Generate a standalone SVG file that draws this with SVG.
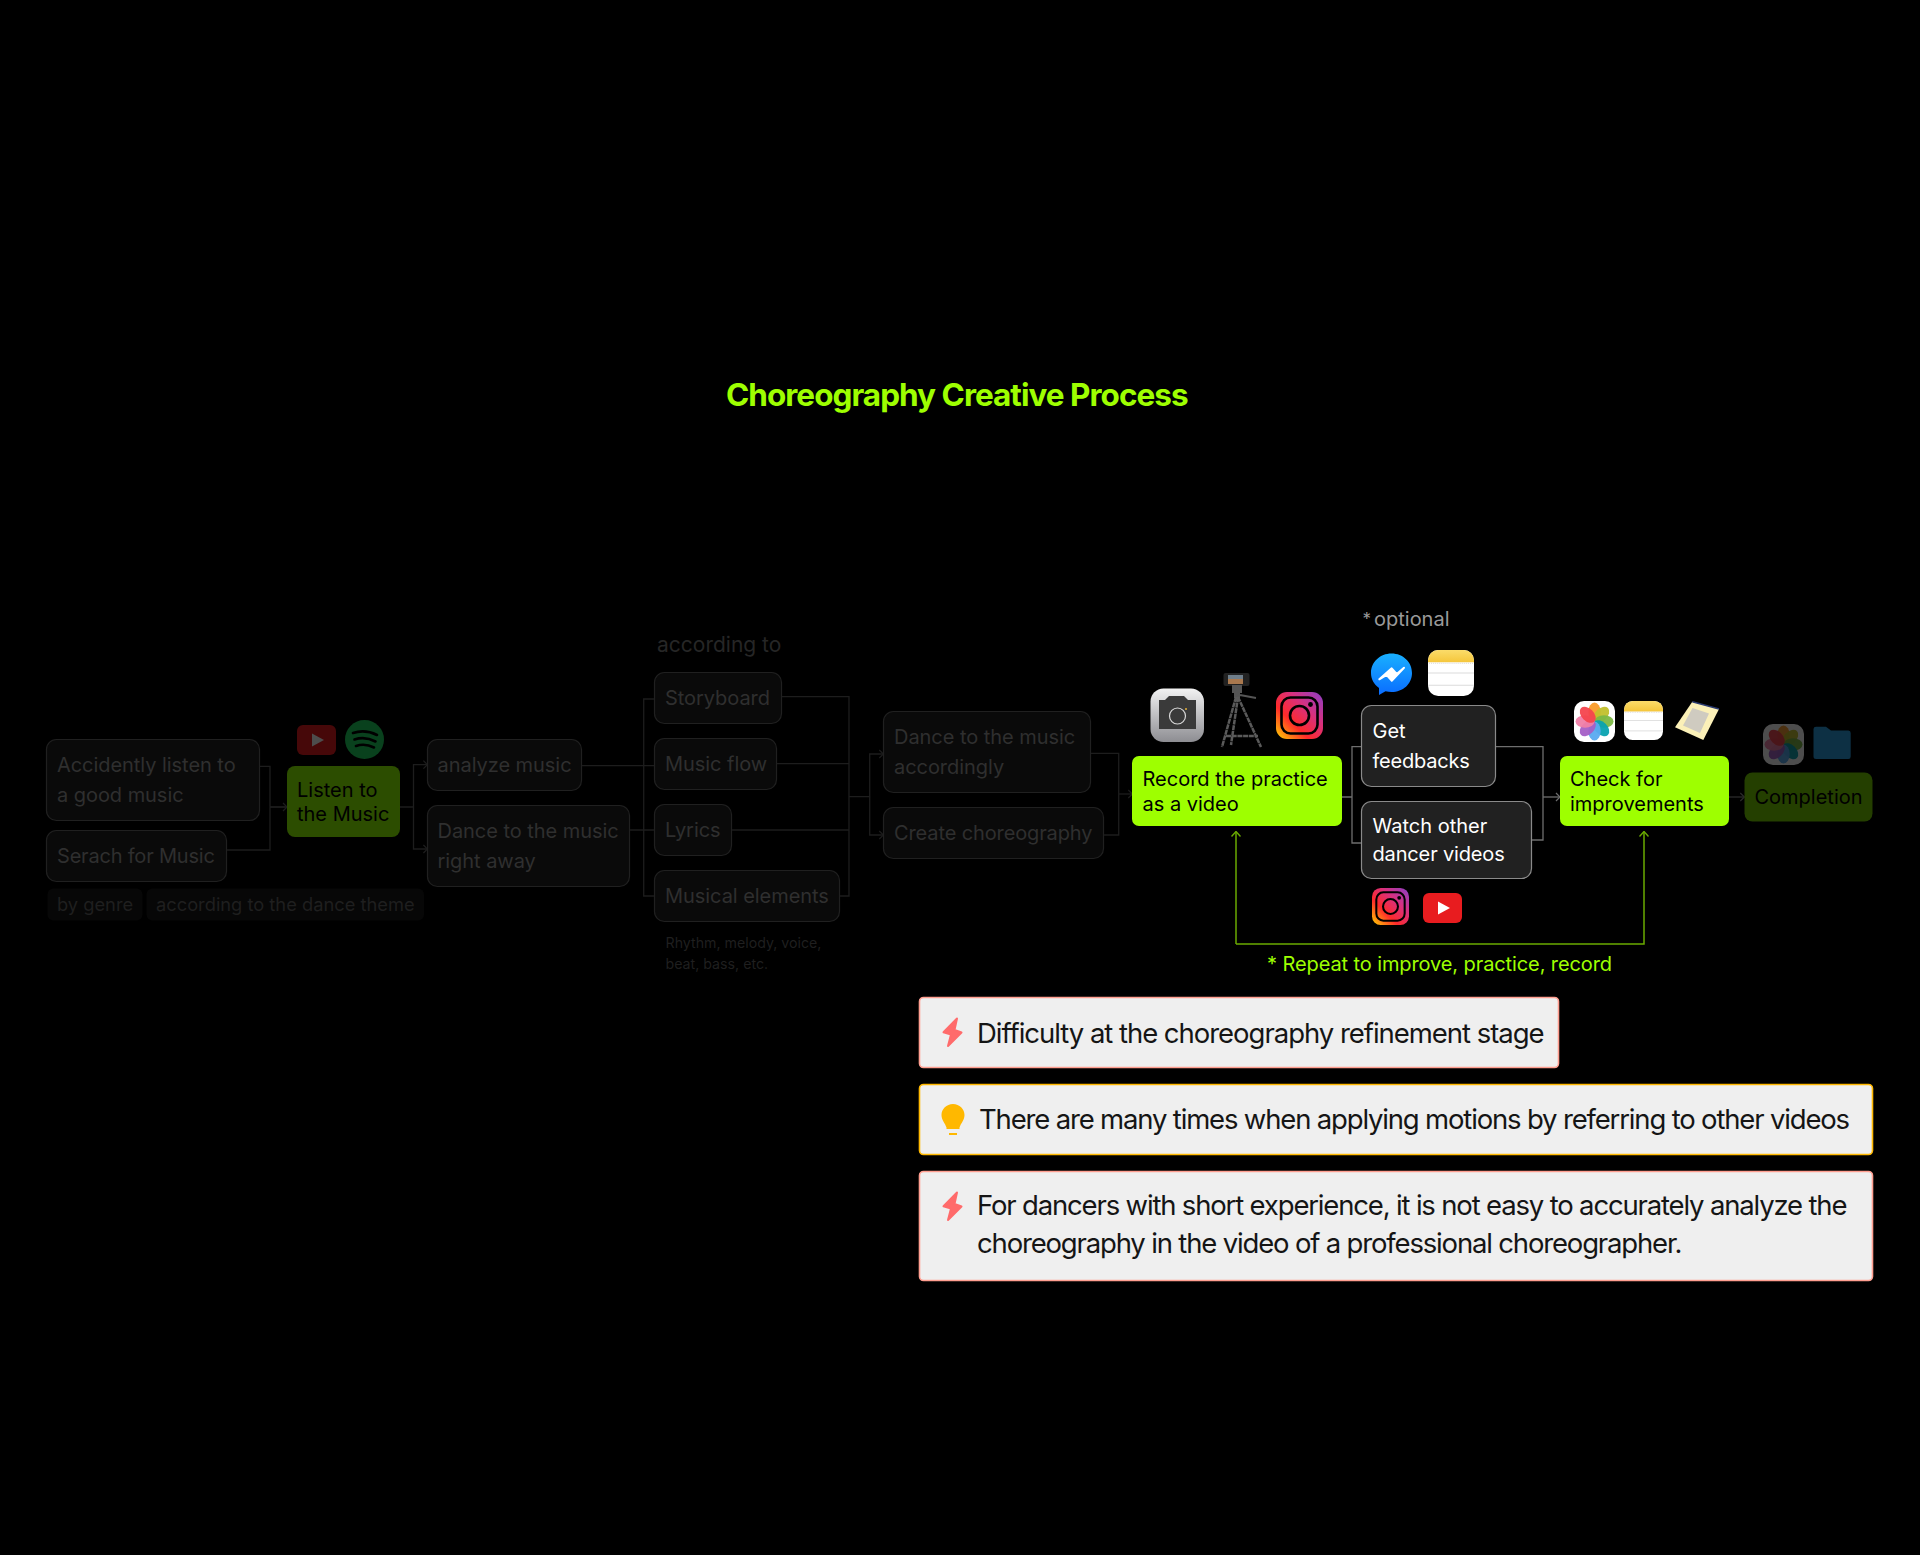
<svg xmlns="http://www.w3.org/2000/svg" width="1920" height="1555" viewBox="0 0 1920 1555">
<style>
text{font-family:Inter,"Liberation Sans",sans-serif;font-size:20px}
.d{fill:#0a0a0a;stroke:#202020;stroke-width:1.2}
.dt{fill:#2f2f2f;letter-spacing:-.05px}
.l{fill:#9eff00}
.lt{fill:#000}
.k{fill:#212121;stroke:#8a8a8a;stroke-width:1.2}
.kt{fill:#fff}
.c{fill:#efefef;stroke-width:1.6}
.ct{fill:#151515;font-size:27.500px;letter-spacing:-1.17px}
.w1{fill:none;stroke:#1d1d1d;stroke-width:1.3}
.w2{fill:none;stroke:#6e6e6e;stroke-width:1.3}
.w3{fill:none;stroke:#6aaa00;stroke-width:1.5}
.w4{fill:none;stroke:#2a2a2a;stroke-width:1.3}
</style>
<defs>
<linearGradient id="ig" x1="0" y1="1" x2="1" y2="0"><stop offset="0" stop-color="#ffd400"/><stop offset=".35" stop-color="#ff2a2a"/><stop offset=".65" stop-color="#d8307e"/><stop offset="1" stop-color="#8a3fc8"/></linearGradient>
<linearGradient id="cam" x1="0" y1="0" x2="0" y2="1"><stop offset="0" stop-color="#f2f2f2"/><stop offset="1" stop-color="#8d8d92"/></linearGradient>
<linearGradient id="ms" x1="0" y1="0" x2="0" y2="1"><stop offset="0" stop-color="#19b0ff"/><stop offset="1" stop-color="#0a6cff"/></linearGradient>
<linearGradient id="nt" x1="0" y1="0" x2="0" y2="1"><stop offset="0" stop-color="#fbdc6a"/><stop offset="1" stop-color="#f5c63b"/></linearGradient>
<symbol id="insta" viewBox="0 0 47 47"><rect width="47" height="47" rx="11" fill="url(#ig)"/><rect x="5.5" y="5.5" width="36" height="36" rx="9" fill="none" stroke="#000" stroke-width="2.6"/><circle cx="23.5" cy="23.5" r="9.5" fill="none" stroke="#000" stroke-width="2.6"/><circle cx="34.5" cy="12.5" r="2.4" fill="#000"/></symbol>
<symbol id="yt" viewBox="0 0 39 30"><rect width="39" height="30" rx="6" fill="#e81c1f"/><path d="M15 8.5 27 15 15 21.5Z" fill="#fff"/></symbol>
<symbol id="notes" viewBox="0 0 45 45"><rect width="45" height="45" rx="10" fill="#fff"/><path d="M0 12V10A10 10 0 0 1 10 0H35A10 10 0 0 1 45 10V12Z" fill="url(#nt)"/><path d="M1 13H44" stroke="#d5d5d5" stroke-width="1" stroke-dasharray="1 1" fill="none"/><path d="M0 22.500H45M0 34.500H45" stroke="#dcdcdc" stroke-width="1" fill="none"/></symbol>
<symbol id="photos" viewBox="0 0 41 41"><rect width="41" height="41" rx="10" fill="#fff"/><g transform="translate(20.500 20.500)"><ellipse cy="-9.500" rx="6.200" ry="9.500" fill="#f99b2a" opacity=".95"/><ellipse cy="-9.500" rx="6.200" ry="9.500" fill="#c2c02c" opacity=".95" transform="rotate(45)"/><ellipse cy="-9.500" rx="6.200" ry="9.500" fill="#7cb845" opacity=".95" transform="rotate(90)"/><ellipse cy="-9.500" rx="6.200" ry="9.500" fill="#08a2b0" opacity=".95" transform="rotate(135)"/><ellipse cy="-9.500" rx="6.200" ry="9.500" fill="#58aaf0" opacity=".95" transform="rotate(180)"/><ellipse cy="-9.500" rx="6.200" ry="9.500" fill="#a45fc6" opacity=".95" transform="rotate(225)"/><ellipse cy="-9.500" rx="6.200" ry="9.500" fill="#ef80a8" opacity=".95" transform="rotate(270)"/><ellipse cy="-9.500" rx="6.200" ry="9.500" fill="#f4444e" opacity=".95" transform="rotate(315)"/></g></symbol>
<symbol id="bolt" viewBox="0 0 21 31"><path d="M15 1.500 1.500 15.300 9 17.500 6 29 19.500 15.500 12.500 13Z" fill="#ff6b6b" stroke="#ff6b6b" stroke-width="2" stroke-linejoin="round"/></symbol>
<marker id="a1" viewBox="0 0 8 10" refX="7" refY="5" markerWidth="8" markerHeight="10" markerUnits="userSpaceOnUse" orient="auto"><path d="M3 1 7 5 3 9" fill="none" stroke="#1d1d1d" stroke-width="1.200"/></marker>
<marker id="a2" viewBox="0 0 8 10" refX="7" refY="5" markerWidth="8" markerHeight="10" markerUnits="userSpaceOnUse" orient="auto"><path d="M3 1 7 5 3 9" fill="none" stroke="#6e6e6e" stroke-width="1.200"/></marker>
<marker id="a3" viewBox="0 0 10 10" refX="9" refY="5" markerWidth="10" markerHeight="10" markerUnits="userSpaceOnUse" orient="auto"><path d="M4 .5 9 5 4 9.500" fill="none" stroke="#6aaa00" stroke-width="1.400"/></marker>
<marker id="a4" viewBox="0 0 8 10" refX="7" refY="5" markerWidth="8" markerHeight="10" markerUnits="userSpaceOnUse" orient="auto"><path d="M3 1 7 5 3 9" fill="none" stroke="#2a2a2a" stroke-width="1.200"/></marker>
</defs>
<rect width="1920" height="1555" fill="#000"/>
<text id="title" x="726" y="405.500" style="font-size:31.500px;font-weight:700;letter-spacing:-.98px;fill:#9eff00">Choreography Creative Process</text>

<g id="connectors">
<path class="w1" d="M260 766.300H270V850H226.500M270 807H287" />
<path class="w1" d="M270 807H287" marker-end="url(#a1)"/>
<path class="w1" d="M399.700 807H413.500M413.500 807V764.700H427.400" marker-end="url(#a1)"/>
<path class="w1" d="M413.500 807V849H427.400" marker-end="url(#a1)"/>
<path class="w1" d="M581.600 765.700H654.300M629.400 830H654.300M654.300 699H643.700V896H654.300"/>
<path class="w1" d="M781.700 696.700H849V896H839.700M776.700 763.700H849M731.700 830H849"/>
<path class="w1" d="M849 796.700H869.700V754H883.300" marker-end="url(#a1)"/>
<path class="w1" d="M869.700 796.700V835H883.300" marker-end="url(#a1)"/>
<path class="w1" d="M1090.700 753.300H1118.700V835H1103.700"/>
<path class="w1" d="M1118.700 794H1132.300" marker-end="url(#a1)"/>
<path class="w2" d="M1342 797H1352M1361.300 746.700H1352V843H1361.300"/>
<path class="w2" d="M1495.700 746.700H1543V840H1531.700"/>
<path class="w2" d="M1543 797H1560" marker-end="url(#a2)"/>
<path class="w4" d="M1729 797H1744.300" marker-end="url(#a4)"/>
<path class="w3" d="M1236 944V831.500" marker-end="url(#a3)"/>
<path class="w3" d="M1236 944H1644V831.500" marker-end="url(#a3)"/>
</g>

<g id="n-accident"><rect class="d" x="46.500" y="739.500" width="213" height="81" rx="10"/><text class="dt" x="57" y="772">Accidently listen to</text><text class="dt" x="57" y="802">a good music</text></g>
<g id="n-search"><rect class="d" x="46.500" y="830.500" width="180" height="51" rx="10"/><text class="dt" x="57" y="863" style="letter-spacing:-.2px">Serach for Music</text></g>
<g id="n-genre"><rect x="47.500" y="888.500" width="95" height="32" rx="6" fill="#070707"/><text x="57" y="911" style="font-size:18.300px;fill:#1f1f1f">by genre</text></g>
<g id="n-theme"><rect x="146.500" y="888.500" width="277.500" height="32" rx="6" fill="#070707"/><text x="156" y="911" style="font-size:18.300px;fill:#1f1f1f">according to the dance theme</text></g>
<g id="n-listen"><rect x="287" y="766" width="113" height="71" rx="8" fill="#2c4d00"/><text class="lt" x="297" y="796.500">Listen to</text><text class="lt" x="297" y="821">the Music</text></g>
<g id="i-youtube-dim" opacity=".3"><use href="#yt" x="297" y="725" width="39" height="30"/></g>
<g id="i-spotify-dim" opacity=".3"><circle cx="364.500" cy="739.500" r="19.500" fill="#1ed760"/><path d="M353 733Q365 729 377 735M354.500 739.500Q365 736 375.500 741.500M356 746Q365 743 374 747.500" fill="none" stroke="#000" stroke-width="2.600" stroke-linecap="round"/></g>
<g id="n-analyze"><rect class="d" x="427.500" y="739.500" width="154" height="51" rx="10"/><text class="dt" x="437.500" y="772">analyze music</text></g>
<g id="n-danceaway"><rect class="d" x="427.500" y="805.500" width="202" height="81" rx="10"/><text class="dt" x="437.500" y="838">Dance to the music</text><text class="dt" x="437.500" y="868">right away</text></g>
<text id="according" x="657" y="652" style="font-size:21px;fill:#262626">according to</text>
<g id="n-story"><rect class="d" x="654.500" y="672.500" width="127" height="51" rx="10"/><text class="dt" x="665" y="705">Storyboard</text></g>
<g id="n-flow"><rect class="d" x="654.500" y="738.500" width="122" height="51" rx="10"/><text class="dt" x="665" y="771">Music flow</text></g>
<g id="n-lyrics"><rect class="d" x="654.500" y="804.500" width="77" height="51" rx="10"/><text class="dt" x="665" y="837">Lyrics</text></g>
<g id="n-elements"><rect class="d" x="654.500" y="870.500" width="185" height="51" rx="10"/><text class="dt" x="665" y="903">Musical elements</text></g>
<text id="rhythm1" x="665.500" y="948" style="font-size:14.200px;fill:#1f1f1f">Rhythm, melody, voice,</text>
<text id="rhythm2" x="665.500" y="969" style="font-size:14.200px;fill:#1f1f1f">beat, bass, etc.</text>
<g id="n-danceacc"><rect class="d" x="883.500" y="711.500" width="207" height="81" rx="10"/><text class="dt" x="894" y="744">Dance to the music</text><text class="dt" x="894" y="774">accordingly</text></g>
<g id="n-create"><rect class="d" x="883.500" y="807.500" width="220" height="51" rx="10"/><text class="dt" x="894" y="840" style="letter-spacing:-.12px">Create choreography</text></g>

<g id="n-record"><rect class="l" x="1132" y="756" width="210" height="70" rx="7"/><text class="lt" x="1142.500" y="786">Record the practice</text><text class="lt" x="1142.500" y="811">as a video</text></g>
<g id="i-camera"><rect x="1150.500" y="688.500" width="53.500" height="53.500" rx="13" fill="url(#cam)"/><path d="M1159 700H1165L1169 696H1184L1188 700H1196V729H1159Z" fill="#3a3a3a"/><circle cx="1177.500" cy="716" r="8" fill="none" stroke="#d8d8d8" stroke-width="1.200"/><circle cx="1186" cy="709" r="1" fill="#e5b13a"/></g>
<g id="i-tripod"><rect x="1223.500" y="673" width="26" height="13" rx="2" fill="#222"/><rect x="1228" y="675" width="15" height="9" fill="#a9784e"/><rect x="1228" y="675" width="15" height="4" fill="#6f7e8a"/><path d="M1233 686H1241V692H1239V697H1235V692H1233ZM1240 695 1256 698" stroke="#555" stroke-width="2" fill="#555"/><path d="M1236 697 1222 747M1238 697 1231 745M1238 697 1261 747M1226 736 1258 736" stroke="#5a5a5a" stroke-width="2.500" fill="none" stroke-dasharray="5 .7"/></g>
<g id="i-insta1"><use href="#insta" x="1276" y="692" width="47" height="47"/></g>
<g id="n-feedback"><rect class="k" x="1361.500" y="705.500" width="134" height="81" rx="10"/><text class="kt" x="1372.500" y="738">Get</text><text class="kt" x="1372.500" y="768" style="letter-spacing:-.2px">feedbacks</text></g>
<g id="n-watch"><rect class="k" x="1361.500" y="801.500" width="170" height="77" rx="10"/><text class="kt" x="1372.500" y="833">Watch other</text><text class="kt" x="1372.500" y="861" style="letter-spacing:-.15px">dancer videos</text></g>
<text id="optional-star" x="1362.500" y="625" style="font-size:17px;fill:#9a9a9a">*</text>
<text id="optional" x="1374" y="626" style="fill:#9a9a9a">optional</text>
<g id="i-messenger"><path d="M1391.500 653.500C1403 653.500 1412 662 1412 673C1412 684 1403 692 1391.500 692C1389.500 692 1387.500 691.800 1385.500 691.200L1379 695V688C1374 684.500 1371 679 1371 673C1371 662 1380 653.500 1391.500 653.500Z" fill="url(#ms)"/><path d="M1379.300 679.300 1391.700 668.300 1396.700 674 1404 667.700 1391.700 680.700 1386.700 675Z" fill="#fff" stroke="#fff" stroke-width="2" stroke-linejoin="round"/></g>
<g id="i-notes1"><use href="#notes" x="1428" y="650" width="46" height="46"/></g>
<g id="i-insta2"><use href="#insta" x="1372" y="888" width="37" height="37"/></g>
<g id="i-youtube"><use href="#yt" x="1423" y="893" width="39" height="30"/></g>
<g id="n-check"><rect class="l" x="1560" y="756" width="169" height="70" rx="7"/><text class="lt" x="1570" y="786">Check for</text><text class="lt" x="1570" y="811">improvements</text></g>
<g id="i-photos"><use href="#photos" x="1574" y="701" width="41" height="41"/></g>
<g id="i-notes2"><use href="#notes" x="1624" y="701" width="39" height="39"/></g>
<g id="i-paper"><path d="M1692.300 701.700 1719 709 1703.300 740 1675 727.300Z" fill="#fbf0b8"/><path d="M1692.300 701.700 1719 709" stroke="#2a3a70" stroke-width="1.500"/><path d="M1692.500 708 1709 713.500 1700 733 1683 725.500Z" fill="#cfcbc0"/></g>
<g id="n-completion"><rect x="1744.500" y="772.500" width="128" height="49" rx="8" fill="#243f00"/><text x="1754.500" y="804" fill="#000">Completion</text></g>
<g id="i-photos-dim" opacity=".3"><use href="#photos" x="1763" y="724" width="41" height="41"/></g>
<g id="i-folder-dim" opacity=".3"><path d="M1813.500 729A2.500 2.500 0 0 1 1816 726.700H1826L1831 730.500H1848A2.500 2.500 0 0 1 1850.700 733V756.500A2.500 2.500 0 0 1 1848 759H1816A2.500 2.500 0 0 1 1813.500 756.500Z" fill="#2a9fe0"/></g>
<text id="repeat" x="1267" y="971" style="font-size:20px;letter-spacing:-.1px;fill:#9eff00">* Repeat to improve, practice, record</text>

<g id="callout1"><rect class="c" x="919.500" y="997.500" width="639" height="70" rx="4" stroke="#ff9e90"/><use href="#bolt" x="942" y="1017" width="21" height="31"/><text class="ct" x="977" y="1043" style="letter-spacing:-1.03px">Difficulty at the choreography refinement stage</text></g>
<g id="callout2"><rect class="c" x="919.500" y="1084.500" width="953" height="70" rx="4" stroke="#ffb800"/><g id="bulb"><path d="M953 1104C959.500 1104 964.500 1109 964.500 1115C964.500 1120 961 1123 959.500 1127.500V1129H946.500V1127.500C945 1123 941.500 1120 941.500 1115C941.500 1109 946.500 1104 953 1104Z" fill="#ffb800"/><rect x="949" y="1133" width="8" height="2" fill="#ffb800"/></g><text class="ct" x="979" y="1129">There are many times when applying motions by referring to other videos</text></g>
<g id="callout3"><rect class="c" x="919.500" y="1171.500" width="953" height="109" rx="4" stroke="#ff9e90"/><use href="#bolt" x="942" y="1191" width="21" height="31"/><text class="ct" x="977" y="1215">For dancers with short experience, it is not easy to accurately analyze the</text><text class="ct" x="977" y="1253">choreography in the video of a professional choreographer.</text></g>
</svg>
